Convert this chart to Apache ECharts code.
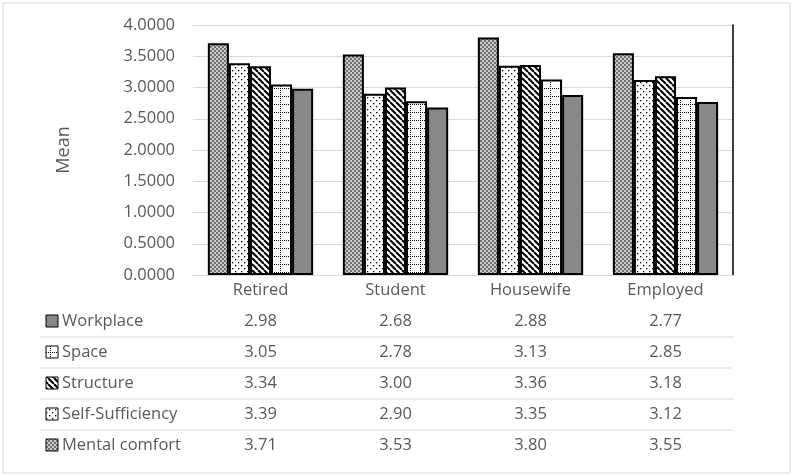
<!DOCTYPE html>
<html><head><meta charset="utf-8">
<script src="https://cdn.jsdelivr.net/npm/echarts@6/dist/echarts.min.js"></script>
<style>html,body{margin:0;padding:0;background:#fff}#c{width:793px;height:476px}</style>
</head><body><div id="c"></div>
<script>
const categories = ['Retired', 'Student', 'Housewife', 'Employed'];
const seriesNames = ['Mental comfort', 'Self-Sufficiency', 'Structure', 'Space', 'Workplace'];
const mentalComfort = [3.71, 3.53, 3.80, 3.55];
const selfSufficiency = [3.39, 2.90, 3.35, 3.12];
const structure = [3.34, 3.00, 3.36, 3.18];
const space = [3.05, 2.78, 3.13, 2.85];
const workplace = [2.98, 2.68, 2.88, 2.77];
const tableRows = ['Workplace', 'Space', 'Structure', 'Self-Sufficiency', 'Mental comfort'];
const valuesByName = {
  'Mental comfort': mentalComfort,
  'Self-Sufficiency': selfSufficiency,
  'Structure': structure,
  'Space': space,
  'Workplace': workplace
};

const FONT = 'Open Sans';
const TXT = '#595959';
const FS = 16.5;

function tile(w, h, draw) {
  const c = document.createElement('canvas');
  c.width = w; c.height = h;
  const g = c.getContext('2d');
  draw(g, w, h);
  return { image: c, repeat: 'repeat' };
}
const patterns = {
  'Mental comfort': tile(4, 4, (g) => {
    g.fillStyle = '#cccccc'; g.fillRect(0, 0, 4, 4);
    g.fillStyle = '#707070'; g.fillRect(0, 0, 2, 2); g.fillRect(2, 2, 2, 2);
  }),
  'Self-Sufficiency': tile(6, 6, (g) => {
    g.fillStyle = '#ffffff'; g.fillRect(0, 0, 6, 6);
    g.fillStyle = '#000000'; g.fillRect(1, 1, 1.3, 1.3); g.fillRect(4, 4, 1.3, 1.3);
  }),
  'Structure': tile(6, 6, (g) => {
    g.fillStyle = '#ffffff'; g.fillRect(0, 0, 6, 6);
    g.strokeStyle = '#000000'; g.lineWidth = 2;
    for (let k = -12; k <= 12; k += 6) {
      g.beginPath(); g.moveTo(k, 0); g.lineTo(k + 6, 6); g.stroke();
    }
  }),
  'Space': tile(10, 8, (g) => {
    g.fillStyle = '#ffffff'; g.fillRect(0, 0, 10, 8);
    g.fillStyle = '#000000';
    for (let x = 0; x < 10; x += 2) g.fillRect(x, 0, 1, 1);
    for (let y = 0; y < 8; y += 2) g.fillRect(0, y, 1, 1);
  }),
  'Workplace': '#888888'
};

const chart = echarts.init(document.getElementById('c'), null, { renderer: 'canvas' });
const series = seriesNames.map(n => ({
  name: n,
  type: 'bar',
  data: valuesByName[n],
  barGap: '0%',
  barCategoryGap: '22%',
  itemStyle: { color: patterns[n], borderColor: '#000', borderWidth: 2 },
  emphasis: { disabled: true }
}));

chart.setOption({
  animation: false,
  backgroundColor: '#fff',
  grid: { left: 193, right: 60, top: 25, bottom: 201, containLabel: false },
  xAxis: {
    type: 'category',
    data: categories,
    axisLine: { show: true, lineStyle: { color: '#d9d9d9', width: 1 } },
    axisTick: { show: false },
    axisLabel: { color: TXT, fontFamily: FONT, fontSize: FS, margin: 7 }
  },
  yAxis: [{
    type: 'value',
    min: 0, max: 4, interval: 0.5,
    name: 'Mean',
    nameLocation: 'middle',
    nameGap: 120,
    nameRotate: 90,
    nameTextStyle: { color: TXT, fontFamily: FONT, fontSize: 18 },
    axisLine: { show: false },
    axisTick: { show: false },
    axisLabel: { color: TXT, fontFamily: FONT, fontSize: FS, margin: 18, formatter: v => v.toFixed(4) },
    splitLine: { lineStyle: { color: '#d9d9d9', width: 1 } }
  }, {
    type: 'value',
    min: 0, max: 4, interval: 0.5,
    position: 'right',
    axisLine: { show: true, lineStyle: { color: '#000', width: 1.5 } },
    axisTick: { show: false },
    axisLabel: { show: false },
    splitLine: { show: false }
  }],
  series: series
});

// data table below the chart, aligned on the category axis
const graphics = [];
graphics.push({
  type: 'rect', shape: { x: 3, y: 3, width: 787, height: 470 },
  style: { fill: 'none', stroke: '#d9d9d9', lineWidth: 1 }, silent: true
});
const rowY0 = 321, rowH = 31;
tableRows.forEach((name, i) => {
  const y = rowY0 + i * rowH;
  graphics.push({
    type: 'rect', shape: { x: 46, y: y - 6, width: 12, height: 12 },
    style: { fill: patterns[name], stroke: '#000', lineWidth: 1 }, silent: true
  });
  graphics.push({
    type: 'text', x: 62, y: y,
    style: { text: name, fill: TXT, font: FS + 'px "' + FONT + '"', textAlign: 'left', textVerticalAlign: 'middle' },
    silent: true
  });
  categories.forEach((cat, j) => {
    const px = chart.convertToPixel({ xAxisIndex: 0 }, cat);
    graphics.push({
      type: 'text', x: px, y: y,
      style: { text: valuesByName[name][j].toFixed(2), fill: TXT, font: FS + 'px "' + FONT + '"', textAlign: 'center', textVerticalAlign: 'middle' },
      silent: true
    });
  });
  if (i < tableRows.length - 1) {
    graphics.push({
      type: 'line', shape: { x1: 40, y1: y + 16, x2: 733, y2: y + 16 },
      style: { stroke: '#d9d9d9', lineWidth: 1 }, silent: true
    });
  }
});
chart.setOption({ graphic: graphics });
</script></body></html>
